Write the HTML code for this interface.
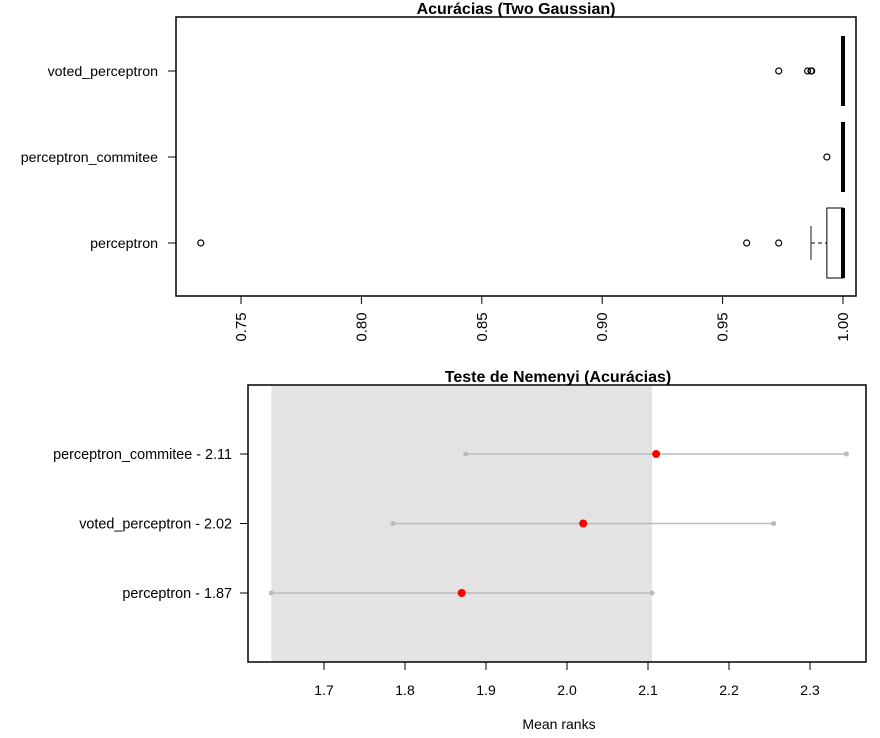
<!DOCTYPE html>
<html><head><meta charset="utf-8"><style>
body{margin:0;background:#fff;font-family:"Liberation Sans",sans-serif}
svg text{font-family:"Liberation Sans",sans-serif}
</style></head><body>
<svg id="c" width="880" height="733" xmlns="http://www.w3.org/2000/svg"></svg>
<script>
const topCats=["perceptron","perceptron_commitee","voted_perceptron"];
const topQ1=[0.9933,1.0,1.0];
const topMed=[1.0,1.0,1.0];
const topQ3=[1.0,1.0,1.0];
const topLowWhisk=[0.9867,1.0,1.0];
const topOutliers=[[0.7333,0.96,0.9733],[0.9933],[0.9733,0.9853,0.9867,0.987]];
const topTicks=[0.75,0.80,0.85,0.90,0.95,1.00];
const topTickLabels=["0.75","0.80","0.85","0.90","0.95","1.00"];
const nemCats=["perceptron - 1.87","voted_perceptron - 2.02","perceptron_commitee - 2.11"];
const nemMeans=[1.87,2.02,2.11];
const cd=0.235;
const nemTicks=[1.7,1.8,1.9,2.0,2.1,2.2,2.3];
const nemTickLabels=["1.7","1.8","1.9","2.0","2.1","2.2","2.3"];

const svg=document.getElementById('c');
const NS="http://www.w3.org/2000/svg";
function mk(t,a,txt){const e=document.createElementNS(NS,t);for(const k in a)e.setAttribute(k,a[k]);if(txt!==undefined)e.textContent=txt;svg.appendChild(e);return e;}
const xT=v=>241+(v-0.75)/0.05*120.4;
const yT=i=>243-i*86;
const xB=v=>324+(v-1.7)*810;
const yB=i=>593-i*69.5;

// top plot
let e=mk('text',{x:516,y:14,'text-anchor':'middle','font-size':16,'font-weight':'bold'},'Acurácias (Two Gaussian)');

e=mk('rect',{x:176,y:17,width:680,height:279,fill:'none',stroke:'#000','stroke-width':1.5});

topTicks.forEach((t,i)=>{
 e=mk('line',{x1:xT(t),x2:xT(t),y1:296,y2:304,stroke:'#000'});
 
 const x=xT(t)+5;
 e=mk('text',{x:x,y:327,transform:`rotate(-90 ${x} 327)`,'text-anchor':'middle','font-size':15},topTickLabels[i]);
 
});
topCats.forEach((c,i)=>{
 const y=yT(i);
 e=mk('line',{x1:168,x2:176,y1:y,y2:y,stroke:'#000'});
 
 e=mk('text',{x:158,y:y+5,'text-anchor':'end','font-size':14.2},c);
 
 const x1=xT(topQ1[i]),x3=xT(topQ3[i]);
 if(x3-x1>1){
  e=mk('rect',{x:x1,y:y-35,width:x3-x1,height:70,fill:'#fff',stroke:'#000'});
  
 }
 const xl=xT(topLowWhisk[i]);
 if(x1-xl>1){
  e=mk('line',{x1:xl,x2:x1,y1:y,y2:y,stroke:'#000','stroke-dasharray':'4,3'});
  
  e=mk('line',{x1:xl,x2:xl,y1:y-17,y2:y+17,stroke:'#666','stroke-width':1.5});
  
 }
 e=mk('line',{x1:xT(topMed[i]),x2:xT(topMed[i]),y1:y-35,y2:y+35,stroke:'#000','stroke-width':4});
 
 topOutliers[i].forEach(o=>{
  e=mk('circle',{cx:xT(o),cy:y,r:3,fill:'none',stroke:'#000','stroke-width':1.2});
  
 });
});

// bottom plot
e=mk('text',{x:558,y:382,'text-anchor':'middle','font-size':16,'font-weight':'bold'},'Teste de Nemenyi (Acurácias)');

const best=Math.min(...nemMeans);
e=mk('rect',{x:xB(best-cd),y:386,width:xB(best+cd)-xB(best-cd),height:276,fill:'#e3e3e3'});

e=mk('rect',{x:248,y:385,width:618,height:277,fill:'none',stroke:'#000','stroke-width':1.5});

nemTicks.forEach((t,i)=>{
 e=mk('line',{x1:xB(t),x2:xB(t),y1:662,y2:670,stroke:'#000'});
 
 e=mk('text',{x:xB(t),y:695,'text-anchor':'middle','font-size':14},nemTickLabels[i]);
 
});
e=mk('text',{x:559,y:729,'text-anchor':'middle','font-size':14},'Mean ranks');

nemCats.forEach((c,i)=>{
 const y=yB(i),m=nemMeans[i];
 e=mk('line',{x1:240,x2:248,y1:y,y2:y,stroke:'#000'});
 
 e=mk('text',{x:232,y:y+5,'text-anchor':'end','font-size':14.4},c);
 
 e=mk('line',{x1:xB(m-cd),x2:xB(m+cd),y1:y,y2:y,stroke:'#bbb','stroke-width':1.5});
 
 [m-cd,m+cd].forEach(v=>{
  e=mk('circle',{cx:xB(v),cy:y,r:2.5,fill:'#bbb'});
  
 });
 e=mk('circle',{cx:xB(m),cy:y,r:4,fill:'#f00'});
 
});
</script>
</body></html>
